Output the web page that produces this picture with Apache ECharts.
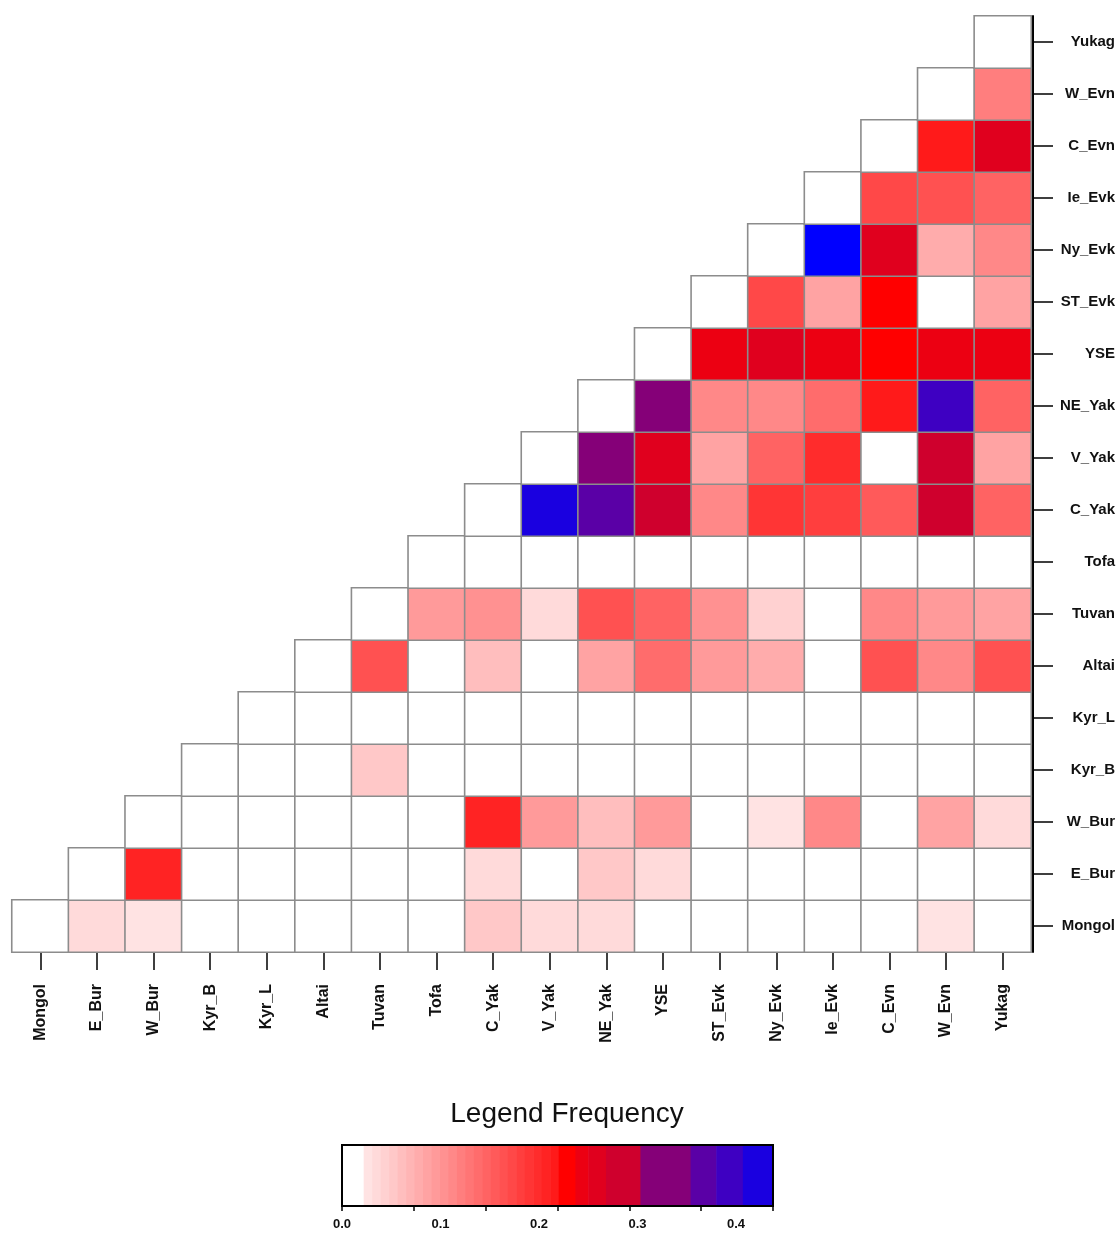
<!DOCTYPE html>
<html><head><meta charset="utf-8">
<script src="https://cdn.jsdelivr.net/npm/echarts@6/dist/echarts.min.js"></script>
<style>html,body{margin:0;padding:0;background:#fff}#c{width:1120px;height:1233px}</style>
</head><body><div id="c"></div>
<script>
// Populations (x axis left->right, y axis bottom->top)
const populations = ['Mongol','E_Bur','W_Bur','Kyr_B','Kyr_L','Altai','Tuvan','Tofa','C_Yak','V_Yak','NE_Yak','YSE','ST_Evk','Ny_Evk','Ie_Evk','C_Evn','W_Evn','Yukag'];

// Each row lists values from its diagonal cell (column = row) to the Yukag column
const row_Mongol = [0, 0.037, 0.025, 0, 0, 0, 0, 0, 0.05, 0.037, 0.035, 0, 0, 0, 0, 0, 0.025, 0];
const row_E_Bur  = [0, 0.21, 0, 0, 0, 0, 0, 0.037, 0, 0.055, 0.035, 0, 0, 0, 0, 0, 0];
const row_W_Bur  = [0, 0, 0, 0, 0, 0, 0.21, 0.095, 0.065, 0.095, 0, 0.025, 0.11, 0, 0.09, 0.035];
const row_Kyr_B  = [0, 0, 0, 0.055, 0, 0, 0, 0, 0, 0, 0, 0, 0, 0, 0];
const row_Kyr_L  = [0, 0, 0, 0, 0, 0, 0, 0, 0, 0, 0, 0, 0, 0];
const row_Altai  = [0, 0.165, 0, 0.06, 0, 0.085, 0.135, 0.095, 0.075, 0, 0.165, 0.115, 0.165];
const row_Tuvan  = [0, 0.095, 0.105, 0.037, 0.165, 0.145, 0.105, 0.04, 0, 0.115, 0.095, 0.09];
const row_Tofa   = [0, 0, 0, 0, 0, 0, 0, 0, 0, 0, 0];
const row_C_Yak  = [0, 0.42, 0.365, 0.28, 0.115, 0.19, 0.18, 0.155, 0.275, 0.145];
const row_V_Yak  = [0, 0.32, 0.26, 0.085, 0.15, 0.195, 0, 0.28, 0.085];
const row_NE_Yak = [0, 0.32, 0.11, 0.115, 0.14, 0.215, 0.39, 0.145];
const row_YSE    = [0, 0.245, 0.255, 0.24, 0.23, 0.24, 0.245];
const row_ST_Evk = [0, 0.17, 0.09, 0.23, 0, 0.09];
const row_Ny_Evk = [0, 0.45, 0.26, 0.08, 0.115];
const row_Ie_Evk = [0, 0.175, 0.165, 0.145];
const row_C_Evn  = [0, 0.215, 0.26];
const row_W_Evn  = [0, 0.12];
const row_Yukag  = [0];

const rows = [row_Mongol,row_E_Bur,row_W_Bur,row_Kyr_B,row_Kyr_L,row_Altai,row_Tuvan,row_Tofa,row_C_Yak,row_V_Yak,row_NE_Yak,row_YSE,row_ST_Evk,row_Ny_Evk,row_Ie_Evk,row_C_Evn,row_W_Evn,row_Yukag];

// Legend scale
const legendMax = 0.4376;
const legendTicks = [0, 0.1, 0.2, 0.3, 0.4];
const upperEdges = [0.22, 0.237, 0.25, 0.268, 0.303, 0.354, 0.38, 0.407, 0.4376];
const upperColors = ['#ff0000', '#ec0012', '#e0001e', '#cf002d', '#850078', '#5a00a6', '#3e00c2', '#1a00e0'];

// build bins
const bins = [{lo: 0, hi: 0.022, color: '#ffffff'}];
const redStart = 0.022, redEnd = 0.22, nRed = 23;
for (let k = 0; k < nRed; k++) {
  const lo = redStart + (redEnd - redStart) * k / nRed;
  const hi = redStart + (redEnd - redStart) * (k + 1) / nRed;
  const mid = (lo + hi) / 2;
  const g = Math.max(0, Math.round(255 * (1 - mid / 0.24)));
  bins.push({lo, hi, color: 'rgb(255,' + g + ',' + g + ')'});
}
for (let k = 0; k < upperColors.length; k++) {
  bins.push({lo: upperEdges[k], hi: upperEdges[k + 1], color: upperColors[k]});
}
const pieces = bins.map(b => ({gte: b.lo, lt: b.hi, color: b.color}));
pieces.push({gte: legendMax, lte: 10, color: '#0000ff'});

const heatData = [];
rows.forEach((r, yi) => r.forEach((v, k) => heatData.push([yi + k, yi, v])));
const legendData = bins.map(b => [b.lo, b.hi, (b.lo + b.hi) / 2]);

const labelFont = {fontFamily: 'Liberation Sans, Arial, sans-serif', fontWeight: 'bold', color: '#111'};

const chart = echarts.init(document.getElementById('c'), null, {renderer: 'canvas'});
chart.setOption({
  backgroundColor: '#ffffff',
  animation: false,
  title: {
    text: 'Legend Frequency', left: 562, top: 1095, textAlign: 'center',
    textStyle: {fontFamily: 'Liberation Sans, Arial, sans-serif', fontSize: 28, fontWeight: 'normal', color: '#111'}
  },
  grid: [
    {left: 12, right: 89, top: 16, bottom: 281},
    {left: 342, right: 347, top: 1145, bottom: 27, show: true, z: 10, borderColor: '#000', borderWidth: 2, backgroundColor: 'transparent'}
  ],
  xAxis: [
    {type: 'category', data: populations, gridIndex: 0, position: 'bottom',
     axisLine: {show: false}, splitLine: {show: false},
     axisTick: {show: true, alignWithLabel: true, length: 18, lineStyle: {color: '#000', width: 1.5}},
     axisLabel: Object.assign({rotate: 90, fontSize: 16, margin: 32, interval: 0}, labelFont)},
    {type: 'value', gridIndex: 1, min: 0, max: legendMax, interval: 0.1, position: 'bottom',
     axisLine: {show: false}, axisTick: {show: false}, splitLine: {show: false},
     axisLabel: Object.assign({fontSize: 13, margin: 12, showMaxLabel: false,
       formatter: v => v.toFixed(1)}, labelFont)},
    {type: 'value', gridIndex: 1, min: 0, max: legendMax, interval: legendMax / 6, position: 'bottom',
     axisLine: {show: false}, splitLine: {show: false}, axisLabel: {show: false},
     axisTick: {show: true, length: 5, lineStyle: {color: '#000', width: 1.5}}}
  ],
  yAxis: [
    {type: 'category', data: populations, gridIndex: 0, position: 'right', offset: 2,
     axisLine: {show: true, lineStyle: {color: '#000', width: 2}}, splitLine: {show: false},
     axisTick: {show: true, alignWithLabel: true, length: 20, lineStyle: {color: '#000', width: 1.5}},
     axisLabel: Object.assign({fontSize: 15, margin: 82, align: 'right', interval: 0}, labelFont)},
    {type: 'value', gridIndex: 1, min: 0, max: 1, show: false}
  ],
  visualMap: {
    type: 'piecewise', show: false, dimension: 2, seriesIndex: [0, 1], pieces: pieces
  },
  series: [
    {type: 'heatmap', xAxisIndex: 0, yAxisIndex: 0, data: heatData,
     itemStyle: {borderColor: '#8c8c8c', borderWidth: 1.6},
     emphasis: {disabled: true}},
    {type: 'custom', xAxisIndex: 1, yAxisIndex: 1, data: legendData,
     renderItem: function (params, api) {
       const p0 = api.coord([api.value(0), 0]);
       const p1 = api.coord([api.value(1), 1]);
       return {type: 'rect',
         shape: {x: p0[0], y: p1[1], width: p1[0] - p0[0] + 0.6, height: p0[1] - p1[1]},
         style: {fill: api.visual('color'), stroke: null}};
     }}
  ]
});
</script></body></html>
